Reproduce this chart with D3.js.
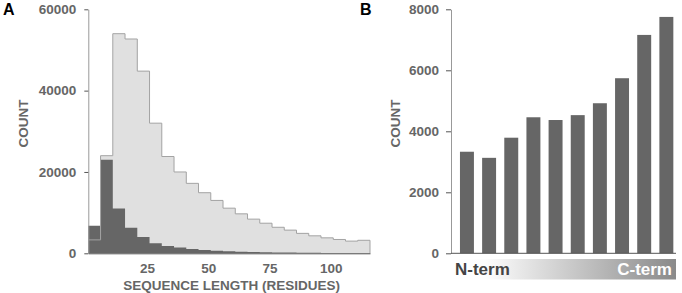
<!DOCTYPE html>
<html>
<head>
<meta charset="utf-8">
<script src="https://cdn.jsdelivr.net/npm/d3@7"></script>
<style>
  body { margin: 0; background: #fff; }
  text { font-family: "Liberation Sans", Arial, sans-serif; font-weight: bold; }
</style>
</head>
<body>
<div id="chart"></div>
<script>
const width = 682;
const height = 293;

// panel A: histogram of sequence lengths, bins of 5 residues starting at 1
const binStart = 1;
const binWidth = 5;
const allCounts = [3300, 24000, 54000, 52700, 44800, 32000, 23800, 20000, 17200, 14900,
  13000, 11100, 9700, 8400, 7400, 6400, 5700, 4900, 4300, 3800, 3400, 3000, 3200];
const subsetCounts = [6800, 23000, 11000, 6300, 4000, 2500, 1800, 1400, 1060, 820,
  650, 500, 400, 320, 260, 210, 170, 140, 110, 90, 70, 60, 50];
const xTicksA = [25, 50, 75, 100];
const yTicksA = [0, 20000, 40000, 60000];

// panel B: counts along the sequence, N-term to C-term
const positions = ["1", "2", "3", "4", "5", "6", "7", "8", "9", "10"];
const positionCounts = [3330, 3130, 3790, 4460, 4370, 4530, 4920, 5740, 7160, 7750];
const yTicksB = [0, 2000, 4000, 6000, 8000];

const svg = d3.select("#chart")
  .append("svg")
  .attr("width", width)
  .attr("height", height);

const textColor = "#666";
const fontSize = "13.5px";

// ---------- Panel A ----------
const xA = d3.scaleLinear()
  .domain([binStart, binStart + binWidth * allCounts.length])
  .range([88.3, 370]);
const yA = d3.scaleLinear().domain([0, 60000]).range([253.3, 9.3]);

const stepPoints = arr => {
  const pts = arr.map((v, i) => [binStart + i * binWidth, v]);
  pts.push([binStart + arr.length * binWidth, arr[arr.length - 1]]);
  return pts;
};

const area = d3.area()
  .x(d => xA(d[0]))
  .y0(yA(0))
  .y1(d => yA(d[1]))
  .curve(d3.curveStepAfter);

const outline = d3.line()
  .x(d => xA(d[0]))
  .y(d => yA(d[1]))
  .curve(d3.curveStepAfter);

const gA = svg.append("g");

gA.append("path")
  .attr("d", area(stepPoints(allCounts)))
  .attr("fill", "#e0e0e0");

gA.append("path")
  .attr("d", area(stepPoints(subsetCounts)))
  .attr("fill", "#666");

// outline of the full set, drawn on top
const lightPts = stepPoints(allCounts);
gA.append("path")
  .attr("d", outline(lightPts) + "L" + xA(lightPts[lightPts.length - 1][0]) + "," + yA(0))
  .attr("fill", "none")
  .attr("stroke", "#a3a3a3")
  .attr("stroke-width", 1);

const yAxisA = gA.append("g")
  .attr("transform", "translate(88.3,0)")
  .call(d3.axisLeft(yA).tickValues(yTicksA).tickFormat(d3.format("d"))
    .tickSize(4).tickSizeOuter(0).tickPadding(8));

const xAxisA = gA.append("g")
  .attr("transform", `translate(0,${yA(0)})`)
  .call(d3.axisBottom(xA).tickValues(xTicksA).tickSize(0).tickPadding(10));

gA.append("text")
  .attr("x", 3)
  .attr("y", 15)
  .attr("font-size", "16px")
  .attr("fill", "#000")
  .text("A");

gA.append("text")
  .attr("transform", "translate(28,123.5) rotate(-90)")
  .attr("text-anchor", "middle")
  .attr("font-size", fontSize)
  .attr("fill", textColor)
  .text("COUNT");

gA.append("text")
  .attr("x", 231.7)
  .attr("y", 290)
  .attr("text-anchor", "middle")
  .attr("font-size", fontSize)
  .attr("fill", textColor)
  .text("SEQUENCE LENGTH (RESIDUES)");

// ---------- Panel B ----------
const xB = d3.scaleBand()
  .domain(positions)
  .range([451.1, 682.2])
  .paddingInner(0.37)
  .paddingOuter(0.4);
const yB = d3.scaleLinear().domain([0, 8000]).range([253.3, 9.3]);

const gB = svg.append("g");

gB.selectAll("rect.bar")
  .data(positions)
  .enter()
  .append("rect")
  .attr("class", "bar")
  .attr("x", d => xB(d))
  .attr("y", (d, i) => yB(positionCounts[i]))
  .attr("width", xB.bandwidth())
  .attr("height", (d, i) => yB(0) - yB(positionCounts[i]))
  .attr("fill", "#666");

const yAxisB = gB.append("g")
  .attr("transform", "translate(451,0)")
  .call(d3.axisLeft(yB).tickValues(yTicksB).tickFormat(d3.format("d"))
    .tickSize(5).tickSizeOuter(0).tickPadding(7));

gB.append("line")
  .attr("x1", 451)
  .attr("x2", 676)
  .attr("y1", yB(0))
  .attr("y2", yB(0))
  .attr("stroke", "#555");

// gradient strip under the bars
const defs = svg.append("defs");
const grad = defs.append("linearGradient").attr("id", "termGrad");
grad.append("stop").attr("offset", "0%").attr("stop-color", "#ffffff");
grad.append("stop").attr("offset", "15%").attr("stop-color", "#fdfdfd");
grad.append("stop").attr("offset", "100%").attr("stop-color", "#8a8a8a");

gB.append("rect")
  .attr("x", 452)
  .attr("y", 259)
  .attr("width", 224)
  .attr("height", 20.5)
  .attr("fill", "url(#termGrad)");

gB.append("text")
  .attr("x", 455)
  .attr("y", 274.5)
  .attr("font-size", "17px")
  .attr("fill", "#444")
  .text("N-term");

gB.append("text")
  .attr("x", 672)
  .attr("y", 274.5)
  .attr("text-anchor", "end")
  .attr("font-size", "17px")
  .attr("fill", "#fff")
  .text("C-term");

gB.append("text")
  .attr("x", 360)
  .attr("y", 15)
  .attr("font-size", "16px")
  .attr("fill", "#000")
  .text("B");

gB.append("text")
  .attr("transform", "translate(400,123.5) rotate(-90)")
  .attr("text-anchor", "middle")
  .attr("font-size", fontSize)
  .attr("fill", textColor)
  .text("COUNT");

// shared axis styling
[yAxisA, xAxisA, yAxisB].forEach(ax => {
  ax.selectAll("text")
    .attr("font-size", fontSize)
    .attr("font-family", "\"Liberation Sans\", Arial, sans-serif")
    .attr("font-weight", "bold")
    .attr("fill", textColor);
  ax.selectAll(".tick line").attr("stroke", "#555");
});
yAxisA.select(".domain").attr("stroke", "#999");
yAxisB.select(".domain").attr("stroke", "#999");
xAxisA.select(".domain").attr("stroke", "#555");
</script>
</body>
</html>
